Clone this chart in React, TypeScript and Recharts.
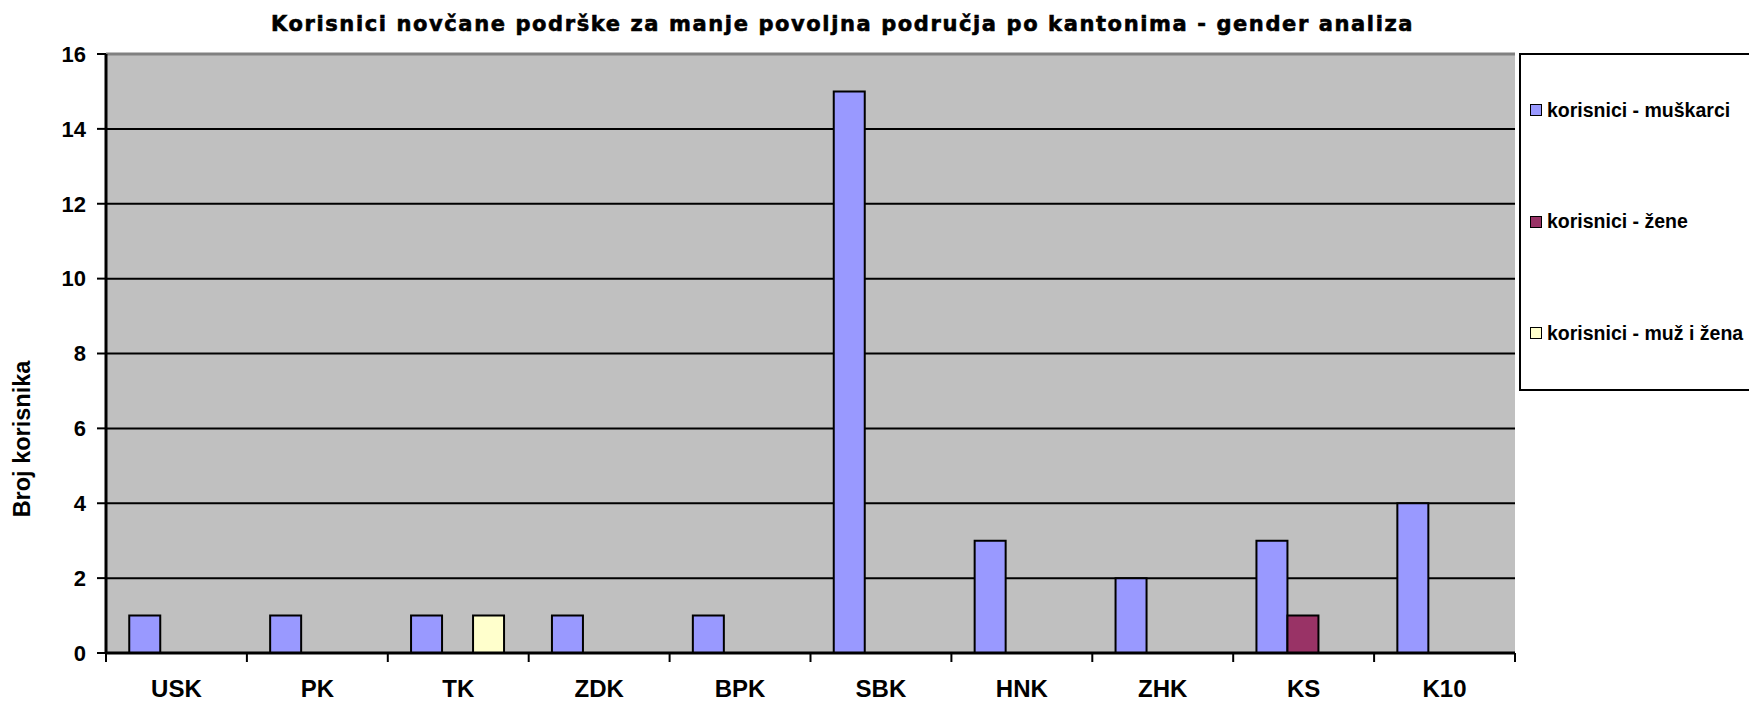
import { BarChart, Bar, XAxis, YAxis, CartesianGrid, Legend, ReferenceLine } from 'recharts'

const cantons = ['USK', 'PK', 'TK', 'ZDK', 'BPK', 'SBK', 'HNK', 'ZHK', 'KS', 'K10']
const muskarci = [1, 1, 1, 1, 1, 15, 3, 2, 3, 4]
const zene = [0, 0, 0, 0, 0, 0, 0, 0, 1, 0]
const muzIZena = [0, 0, 1, 0, 0, 0, 0, 0, 0, 0]
const yTicks = [0, 2, 4, 6, 8, 10, 12, 14, 16]

const series = [
  { key: 'muskarci', name: 'korisnici - muškarci', color: '#9999FF' },
  { key: 'zene', name: 'korisnici - žene', color: '#993366' },
  { key: 'muzIZena', name: 'korisnici - muž i žena', color: '#FFFFCC' },
]

const data = cantons.map((c, i) => ({
  canton: c,
  muskarci: muskarci[i],
  zene: zene[i],
  muzIZena: muzIZena[i],
}))

const font = '"Liberation Sans", Arial, sans-serif'
const X_TICK_SIZE = 9
const X_TICK_MARGIN = 18

// category label plus a tick mark on the band edges (Excel style)
function CantonTick(props: any) {
  const { x, y, payload, index, visibleTicksCount } = props
  const half = payload?.offset ?? 0
  const axisY = y - X_TICK_SIZE - X_TICK_MARGIN
  const isLast = index === visibleTicksCount - 1
  return (
    <g>
      <line x1={x - half} x2={x - half} y1={axisY} y2={axisY + X_TICK_SIZE} stroke="#000" strokeWidth={2} />
      {isLast && (
        <line x1={x + half} x2={x + half} y1={axisY} y2={axisY + X_TICK_SIZE} stroke="#000" strokeWidth={2} />
      )}
      <text x={x} y={y} dy="0.71em" textAnchor="middle" fill="#000" fontFamily={font} fontWeight="bold" fontSize={24}>
        {payload.value}
      </text>
    </g>
  )
}

function LegendBox() {
  return (
    <div
      style={{
        boxSizing: 'border-box',
        width: 240,
        height: 338,
        border: '2px solid #000',
        background: '#fff',
        display: 'flex',
        flexDirection: 'column',
        paddingTop: 44,
        gap: 89.5,
        paddingLeft: 9,
        fontFamily: font,
        fontWeight: 'bold',
        fontSize: 19.5,
        color: '#000',
      }}
    >
      {series.map(s => (
        <div key={s.key} style={{ display: 'flex', alignItems: 'center', gap: 5, height: 22, whiteSpace: 'nowrap' }}>
          <span style={{ width: 10, height: 10, background: s.color, border: '1.5px solid #000', display: 'inline-block' }} />
          {s.name}
        </div>
      ))}
    </div>
  )
}

export default function App() {
  return (
    <div style={{ position: 'absolute', left: 0, top: 0, width: 1749, height: 702, overflow: 'hidden', background: '#fff' }}>
      <div
        style={{
          position: 'absolute',
          top: 12,
          left: 0,
          width: 1685,
          textAlign: 'center',
          fontFamily: '"DejaVu Sans", sans-serif',
          fontWeight: 900,
          fontSize: 21,
          letterSpacing: 1.6,
          WebkitTextStroke: '0.6px #000',
          color: '#000',
        }}
      >
        Korisnici novčane podrške za manje povoljna područja po kantonima - gender analiza
      </div>
      <BarChart
        width={1749}
        height={702}
        data={data}
        margin={{ top: 54, right: 234, left: 0, bottom: 0 }}
        barCategoryGap="16.5%"
        barGap={0}
      >
        <CartesianGrid fill="#C0C0C0" stroke="#000" strokeWidth={2} vertical={false} />
        <XAxis
          dataKey="canton"
          height={49}
          tickLine={false}
          tickSize={X_TICK_SIZE}
          tickMargin={X_TICK_MARGIN}
          axisLine={{ stroke: '#000', strokeWidth: 3 }}
          tick={CantonTick}
          interval={0}
        />
        <YAxis
          domain={[0, 16]}
          ticks={yTicks}
          width={106}
          tickSize={9}
          tickMargin={11}
          tickLine={{ stroke: '#000', strokeWidth: 2 }}
          axisLine={{ stroke: '#000', strokeWidth: 3 }}
          tick={{ fontSize: 22, fontWeight: 'bold', fill: '#000', fontFamily: font }}
          label={{
            value: 'Broj korisnika',
            angle: -90,
            position: 'center',
            dx: -31,
            dy: 85.5,
            style: { fontSize: 23.5, fontWeight: 'bold', fill: '#000', fontFamily: font },
          }}
        />
        <ReferenceLine y={16} stroke="#808080" strokeWidth={3} />
        <ReferenceLine x="K10" position="end" stroke="#808080" strokeWidth={3} />
        <Legend
          layout="horizontal"
          verticalAlign="middle"
          align="center"
          wrapperStyle={{ left: 1519, top: 53, width: 240, height: 338 }}
          content={() => <LegendBox />}
        />
        {series.map(s => (
          <Bar
            key={s.key}
            dataKey={s.key}
            name={s.name}
            fill={s.color}
            stroke="#000"
            strokeWidth={2}
            isAnimationActive={false}
          />
        ))}
      </BarChart>
    </div>
  )
}
